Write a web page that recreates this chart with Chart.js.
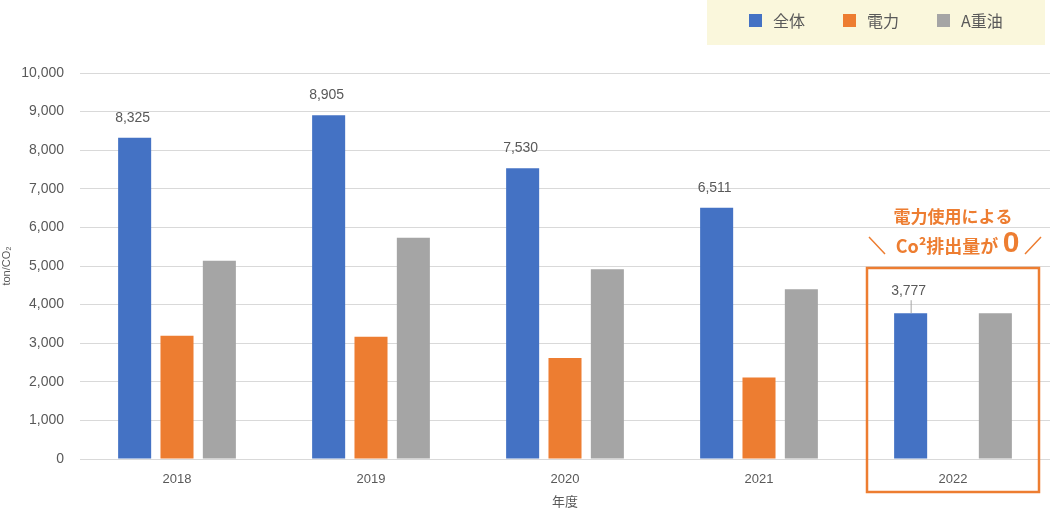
<!DOCTYPE html>
<html lang="ja">
<head>
<meta charset="utf-8">
<script src="https://cdn.jsdelivr.net/npm/chart.js@4/dist/chart.umd.min.js"></script>
<style>
  body { margin: 0; background: #fff; }
  #wrap { width: 1050px; height: 510px; }
</style>
</head>
<body>
<div id="wrap"><canvas id="co2Chart" width="1050" height="510"></canvas></div>
<script>
const years = ['2018', '2019', '2020', '2021', '2022'];
const seriesNames = ['全体', '電力', 'A重油'];
const totalValues = [8325, 8905, 7530, 6511, 3777];
const powerValues = [3190, 3170, 2615, 2110, 0];
const oilValues = [5135, 5735, 4915, 4400, 3777];
const yTicks = [0, 1000, 2000, 3000, 4000, 5000, 6000, 7000, 8000, 9000, 10000];

const textColor = '#595959';
const latin = '"Liberation Sans", Arial, "Noto Sans CJK JP", sans-serif';
const jp = '"Noto Sans CJK JP", "Noto Sans", sans-serif';

// legend drawn in a pale box at the top right
const boxLegend = {
    id: 'boxLegend',
    afterDraw(chart) {
        const ctx = chart.ctx;
        ctx.save();
        ctx.fillStyle = '#faf7dc';
        ctx.fillRect(707, 0, 338, 45);
        const xs = [749, 843, 937];
        ctx.font = '16px ' + jp;
        ctx.textBaseline = 'middle';
        chart.data.datasets.forEach((ds, i) => {
            ctx.fillStyle = ds.backgroundColor;
            ctx.fillRect(xs[i], 14, 13, 13);
            ctx.fillStyle = textColor;
            ctx.fillText(ds.label, xs[i] + 24, 21);
        });
        ctx.restore();
    }
};

// value labels above the 全体 bars
const totalLabels = {
    id: 'totalLabels',
    afterDatasetsDraw(chart) {
        const ctx = chart.ctx;
        const meta = chart.getDatasetMeta(0);
        ctx.save();
        ctx.font = '14px ' + latin;
        ctx.fillStyle = textColor;
        ctx.textAlign = 'center';
        ctx.textBaseline = 'middle';
        meta.data.forEach((bar, i) => {
            const txt = totalValues[i].toLocaleString('en-US');
            const last = i === meta.data.length - 1;
            const y = bar.y - (last ? 22 : 20);
            ctx.fillText(txt, bar.x - 2, y);
            if (last) {
                ctx.strokeStyle = '#a6a6a6';
                ctx.lineWidth = 1;
                ctx.beginPath();
                ctx.moveTo(bar.x + 0.5, y + 9);
                ctx.lineTo(bar.x + 0.5, bar.y);
                ctx.stroke();
            }
        });
        ctx.restore();
    }
};

// orange callout around 2022
const callout = {
    id: 'callout',
    afterDraw(chart) {
        const ctx = chart.ctx;
        const x = chart.scales.x;
        const cx = x.getPixelForValue(4);
        const bottom = chart.chartArea.bottom;
        ctx.save();
        ctx.strokeStyle = '#ed7d31';
        ctx.lineWidth = 2.5;
        ctx.strokeRect(cx - 86, 268, 172, bottom + 33 - 268);

        ctx.fillStyle = '#ed7d31';
        ctx.textAlign = 'center';
        ctx.textBaseline = 'middle';
        ctx.font = 'bold 17px ' + jp;
        ctx.fillText('電力使用による', cx, 217);
        ctx.font = 'bold 18px ' + jp;
        ctx.fillText('Co²排出量が', cx - 6, 246);
        ctx.font = 'bold 30px ' + latin;
        ctx.fillText('0', cx + 58, 244);
        ctx.lineWidth = 1.5;
        ctx.beginPath();
        ctx.moveTo(cx - 84, 237);
        ctx.lineTo(cx - 68, 254);
        ctx.moveTo(cx + 88, 237);
        ctx.lineTo(cx + 72, 254);
        ctx.stroke();
        ctx.restore();
    }
};

new Chart(document.getElementById('co2Chart'), {
    type: 'bar',
    data: {
        labels: years,
        datasets: [
            { label: seriesNames[0], data: totalValues, backgroundColor: '#4472c4' },
            { label: seriesNames[1], data: powerValues, backgroundColor: '#ed7d31' },
            { label: seriesNames[2], data: oilValues, backgroundColor: '#a5a5a5' }
        ]
    },
    options: {
        responsive: false,
        animation: false,
        layout: { padding: { top: 73, right: 0, left: 0, bottom: 0 } },
        datasets: { bar: { categoryPercentage: 0.655, barPercentage: 0.78 } },
        scales: {
            x: {
                afterFit: axis => { axis.height = 51; },
                grid: { display: false },
                border: { display: false },
                ticks: { color: textColor, font: { size: 13, family: latin }, padding: 5 },
                title: { display: true, text: '年度', color: textColor, font: { size: 13, family: jp }, padding: { top: 0, bottom: 1 } }
            },
            y: {
                min: 0,
                max: 10000,
                afterFit: axis => { axis.width = 80; },
                afterBuildTicks: axis => { axis.ticks = yTicks.map(v => ({ value: v })); },
                grid: { color: '#d9d9d9', drawTicks: false },
                border: { display: false },
                ticks: {
                    color: textColor,
                    font: { size: 14, family: latin },
                    padding: 16,
                    callback: v => v.toLocaleString('en-US')
                },
                title: { display: true, text: 'ton/CO₂', color: textColor, font: { size: 11, family: latin }, padding: { top: 0, bottom: 1 } }
            }
        },
        plugins: {
            legend: { display: false },
            tooltip: { enabled: false }
        }
    },
    plugins: [boxLegend, totalLabels, callout]
});
</script>
</body>
</html>
